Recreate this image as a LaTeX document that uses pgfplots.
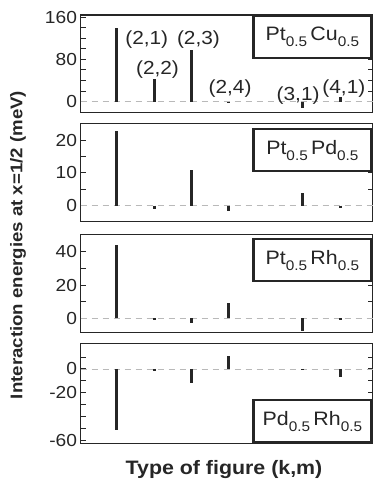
\documentclass[border=0pt]{standalone}
\usepackage{fontspec}
\setmainfont{Liberation Sans}[FakeStretch=1.1]
\usepackage{pgfplots}
\pgfplotsset{compat=1.18}
\definecolor{ink}{gray}{0.15}
\pgfplotsset{
  panel/.style={
    scale only axis, width=292bp,
    xmin=0.019, xmax=7.87, xtick=\empty,
    axis line style={line width=1.3bp, ink},
    ytick style={line width=1bp, ink},
    major tick length=5bp,
    yticklabel style={font=\fontsize{17.5}{19}\selectfont, text=ink},
    /pgf/number format/assume math mode=true,
    clip=false,
  },
  bars/.style={ycomb, mark=none, line width=3bp, ink},
  zero/.style={gray!55, dash pattern=on 6bp off 5bp, line width=0.8bp},
}
\newcommand{\sub}[1]{\raisebox{-0.32em}{\fontsize{14}{15}\selectfont #1}}
\newcommand{\boxlab}[2]{#1\sub{0.5}\,#2\sub{0.5}}
\tikzset{alloy/.style={draw=ink, line width=2.2bp, fill=white, minimum width=118bp, minimum height=42bp, inner sep=0pt, font=\fontsize{19.5}{21}\selectfont, text=ink}}
\begin{document}
\begin{tikzpicture}
\useasboundingbox (0,0) rectangle (377bp,487bp);
% Panel 1: Pt-Cu
\begin{axis}[panel, at={(80.5bp,374.3bp)}, anchor=south west, height=97.7bp,
  ymin=-20.8, ymax=164, ytick={0,20,...,160}, yticklabels={0,,,,80,,,,160}]
\addplot[zero] coordinates {(0.019,0) (7.87,0)};
\addplot[bars] coordinates {(1,139) (2,43) (3,98) (4,-2.5) (6,-11) (7,8)};
\node[alloy, anchor=north east] at (rel axis cs:1,1) {\boxlab{Pt}{Cu}};
\begin{scope}[every node/.style={font=\fontsize{19}{20}\selectfont, text=ink}]
\node at (axis cs:1.80,118) {(2,1)};
\node at (axis cs:3.19,118) {(2,3)};
\node at (axis cs:2.09,61.4) {(2,2)};
\node at (axis cs:4.04,25.3) {(2,4)};
\node at (axis cs:5.87,12) {(3,1)};
\node at (axis cs:7.10,25) {(4,1)};
\end{scope}
\end{axis}
% Panel 2: Pt-Pd
\begin{axis}[panel, at={(80.5bp,265.3bp)}, anchor=south west, height=98.4bp,
  ymin=-4.9, ymax=25.1, ytick={0,5,10,15,20}, yticklabels={0,,10,,20}]
\addplot[zero] coordinates {(0.019,0) (7.87,0)};
\addplot[bars] coordinates {(1,22.8) (2,-1) (3,10.9) (4,-1.5) (6,3.9) (7,-0.8)};
\node[alloy, anchor=north east] at ([yshift=-5bp]rel axis cs:1,1) {\boxlab{Pt}{Pd}};
\end{axis}
% Panel 3: Pt-Rh
\begin{axis}[panel, at={(80.5bp,154.3bp)}, anchor=south west, height=98.4bp,
  ymin=-8.6, ymax=50.5, ytick={0,10,20,30,40}, yticklabels={0,,20,,40}]
\addplot[zero] coordinates {(0.019,0) (7.87,0)};
\addplot[bars] coordinates {(1,44) (2,-0.8) (3,-3) (4,9) (6,-7.5) (7,-1.2)};
\node[alloy, anchor=north east] at ([yshift=-4bp]rel axis cs:1,1) {\boxlab{Pt}{Rh}};
\end{axis}
% Panel 4: Pd-Rh
\begin{axis}[panel, at={(80.5bp,43.7bp)}, anchor=south west, height=100bp,
  ymin=-62.2, ymax=21.5, ytick={-60,-50,...,10}, yticklabels={-60,,,,-20,,0,}]
\addplot[zero] coordinates {(0.019,0) (7.87,0)};
\addplot[bars] coordinates {(1,-51) (2,-1.5) (3,-12) (4,11) (6,-1.2) (7,-6.5)};
\node[alloy, anchor=south east] at (rel axis cs:1,0) {\boxlab{Pd}{Rh}};
\end{axis}
\node[rotate=90, font=\bfseries\fontsize{17}{20}\selectfont, text=ink] at (18bp,242bp) {Interaction energies at x=1/2 (meV)};
\node[font=\bfseries\fontsize{19.5}{22}\selectfont, text=ink] at (224bp,17bp) {Type of figure (k,m)};
\end{tikzpicture}
\end{document}
